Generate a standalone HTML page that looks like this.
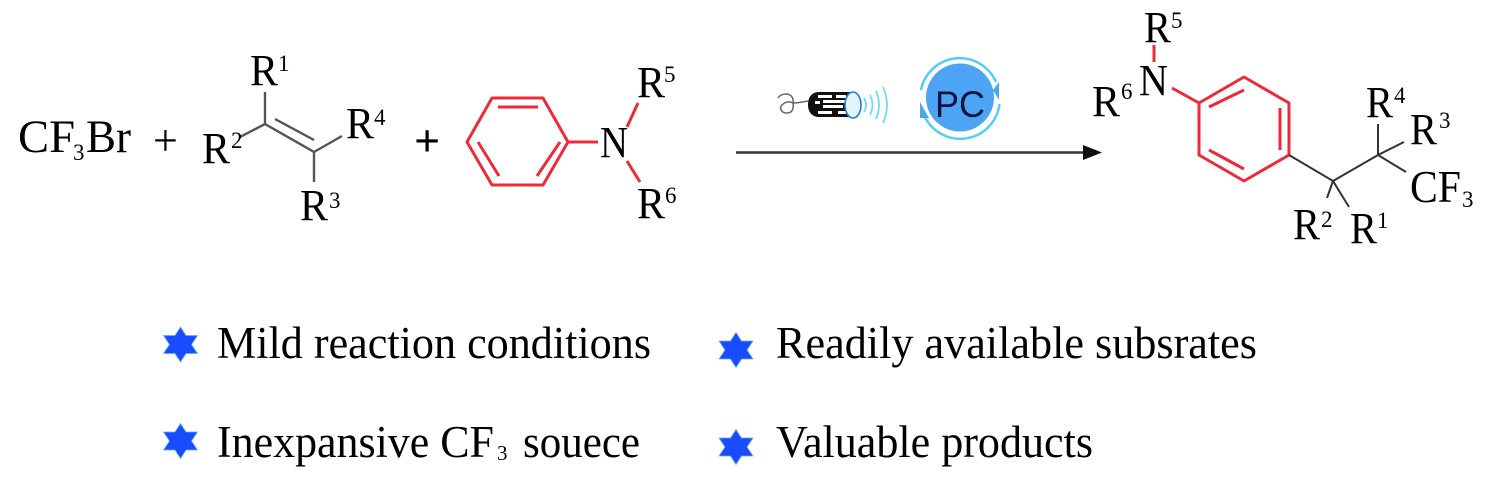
<!DOCTYPE html>
<html><head><meta charset="utf-8"><style>
html,body{margin:0;padding:0;background:#fff}
svg{display:block}
text{font-family:"Liberation Serif",serif;fill:#000}
.r{font-size:44px}
.s{font-size:23px}
.l{font-size:45px}
</style></head><body>
<svg width="1487" height="481" viewBox="0 0 1487 481" xmlns="http://www.w3.org/2000/svg">
<defs><polygon id="st" points="0,-17.500 5.500,-9 17,-9 11,0 17,9 5.500,9 0,17.500 -5.500,9 -17,9 -11,0 -17,-9 -5.500,-9" fill="#1a4cff" stroke="#6aaeea" stroke-width="0.800"/></defs>
<rect width="1487" height="481" fill="#fff"/>

<!-- CF3Br -->
<text x="18" y="152" textLength="57" lengthAdjust="spacingAndGlyphs" style="font-size:47px">CF</text>
<text class="s" x="73" y="160">3</text>
<text x="86" y="152" textLength="45" lengthAdjust="spacingAndGlyphs" style="font-size:47px">Br</text>
<text x="153" y="155" style="font-size:44px">+</text>
<text x="414" y="156" style="font-size:46px;font-weight:bold">+</text>

<!-- alkene -->
<g stroke="#555" stroke-width="2.400" fill="none">
<path d="M265 92V124L314 152V182M265 124L240 137M314 152L342 136M275 119L314 140"/>
</g>
<text class="r" x="250" y="85" textLength="28" lengthAdjust="spacingAndGlyphs">R</text><text class="s" x="278" y="71">1</text>
<text class="r" x="202" y="163" textLength="28" lengthAdjust="spacingAndGlyphs">R</text><text class="s" x="231" y="148">2</text>
<text class="r" x="346" y="138" textLength="28" lengthAdjust="spacingAndGlyphs">R</text><text class="s" x="374" y="125">4</text>
<text class="r" x="300" y="220" textLength="28" lengthAdjust="spacingAndGlyphs">R</text><text class="s" x="329" y="208">3</text>

<!-- aniline -->
<g stroke="#ee2a3a" stroke-width="3" fill="none" stroke-linejoin="round">
<path d="M467 142L492 98H543L568 142L543 185H492Z"/>
<path d="M498 107H538M478 142L499 176M537 176L560 142"/>
<path d="M568 142H598M638 103L627 127M627 161L640 182"/>
</g>
<text class="r" x="600" y="157" textLength="28" lengthAdjust="spacingAndGlyphs">N</text>
<text class="r" x="637" y="97" textLength="28" lengthAdjust="spacingAndGlyphs">R</text><text class="s" x="664" y="82">5</text>
<text class="r" x="637" y="218" textLength="28" lengthAdjust="spacingAndGlyphs">R</text><text class="s" x="665" y="203">6</text>

<!-- arrow -->
<path d="M736 152.500H1090" stroke="#333" stroke-width="2.600"/>
<path d="M1083 145L1102 152.500L1083 160Z" fill="#111"/>

<!-- laser icon -->
<g fill="none">
<path d="M808 101C803 102 797 103 793 103C794 97 790 94 786 94C782 94 779 96 778 98M793 103C794 109 792 113 787 113C781 113 779 108 782 105C785 102 789 101 793 103" stroke="#666" stroke-width="1.500"/>
<path d="M819 92H853V117H819C812 117 808 112 808 104.500C808 97 812 92 819 92Z" fill="#111"/>
<g fill="#fff">
<rect x="818" y="95" width="14" height="3"/><rect x="836" y="95" width="10" height="3"/>
<rect x="815" y="101" width="5" height="3"/><rect x="823" y="100" width="22" height="3"/>
<rect x="823" y="105" width="20" height="3"/>
<rect x="818" y="111" width="14" height="3"/><rect x="838" y="111" width="8" height="3"/>
</g>
<ellipse cx="853" cy="105" rx="8" ry="13" fill="#e4f4fb" stroke="#1b7fe0" stroke-width="1.600"/>
<g stroke="#6fdcf2" stroke-width="1.800">
<path d="M864 98Q868 105 864 112M870 95Q875 105 870 115M876 91Q882 105 876 119M883 87Q891 105 883 123"/>
</g>
</g>

<!-- PC -->
<circle cx="960" cy="97.500" r="34" fill="#4da3f4"/>
<g fill="none" stroke="#52cff2" stroke-width="2.500">
<path d="M921 90A39.500 39.500 0 0 1 996 82"/>
<path d="M999.500 104A39.500 39.500 0 0 1 924 115"/>
</g>
<path d="M993 90L999 82L999 100Z" fill="#4aa8ea"/>
<path d="M920 118V102L929 118Z" fill="#4aa8ea"/>
<text x="935" y="117" textLength="50" lengthAdjust="spacingAndGlyphs" style="font-family:'Liberation Sans',sans-serif;font-size:37px;fill:#0c1640">PC</text>

<!-- product -->
<g stroke="#ee2a3a" stroke-width="3" fill="none" stroke-linejoin="round">
<path d="M1244 77L1289 103V155L1244 181L1199 155V103Z"/>
<path d="M1280 108V150M1209 107L1244 90M1209 150L1244 169"/>
<path d="M1172 88L1199 103M1154 45V62"/>
</g>
<g stroke="#333" stroke-width="2" fill="none">
<path d="M1289 155L1333 181L1378 155V124M1378 155L1404 142M1378 155L1406 172M1333 181L1327 198M1333 181L1349 207"/>
</g>
<text class="r" x="1139" y="95" textLength="29" lengthAdjust="spacingAndGlyphs">N</text>
<text class="r" x="1144" y="42" textLength="27" lengthAdjust="spacingAndGlyphs">R</text><text class="s" x="1171" y="28">5</text>
<text class="r" x="1092" y="116" textLength="28" lengthAdjust="spacingAndGlyphs">R</text><text class="s" x="1121" y="99">6</text>
<text class="r" x="1366" y="117" textLength="27" lengthAdjust="spacingAndGlyphs">R</text><text class="s" x="1394" y="103">4</text>
<text class="r" x="1410" y="144" textLength="27" lengthAdjust="spacingAndGlyphs">R</text><text class="s" x="1439" y="128">3</text>
<text x="1410" y="202" textLength="51" lengthAdjust="spacingAndGlyphs" style="font-size:46px">CF</text>
<text class="s" x="1462" y="207">3</text>
<text class="r" x="1293" y="239" textLength="27" lengthAdjust="spacingAndGlyphs">R</text><text class="s" x="1321" y="227">2</text>
<text class="r" x="1350" y="243" textLength="27" lengthAdjust="spacingAndGlyphs">R</text><text class="s" x="1377" y="228">1</text>

<!-- list -->
<use href="#st" x="180.500" y="344.500"/>
<use href="#st" x="736" y="350"/>
<use href="#st" x="180.500" y="441"/>
<use href="#st" x="736" y="447"/>
<text class="l" x="217" y="358" textLength="434" lengthAdjust="spacingAndGlyphs">Mild reaction conditions</text>
<text class="l" x="776" y="358" textLength="481" lengthAdjust="spacingAndGlyphs">Readily available subsrates</text>
<text class="l" x="217" y="457" textLength="277" lengthAdjust="spacingAndGlyphs">Inexpansive CF</text>
<text x="497" y="460" style="font-size:21px">3</text>
<text class="l" x="523" y="457" textLength="117" lengthAdjust="spacingAndGlyphs">souece</text>
<text class="l" x="776" y="457" textLength="317" lengthAdjust="spacingAndGlyphs">Valuable products</text>
</svg>
</body></html>
